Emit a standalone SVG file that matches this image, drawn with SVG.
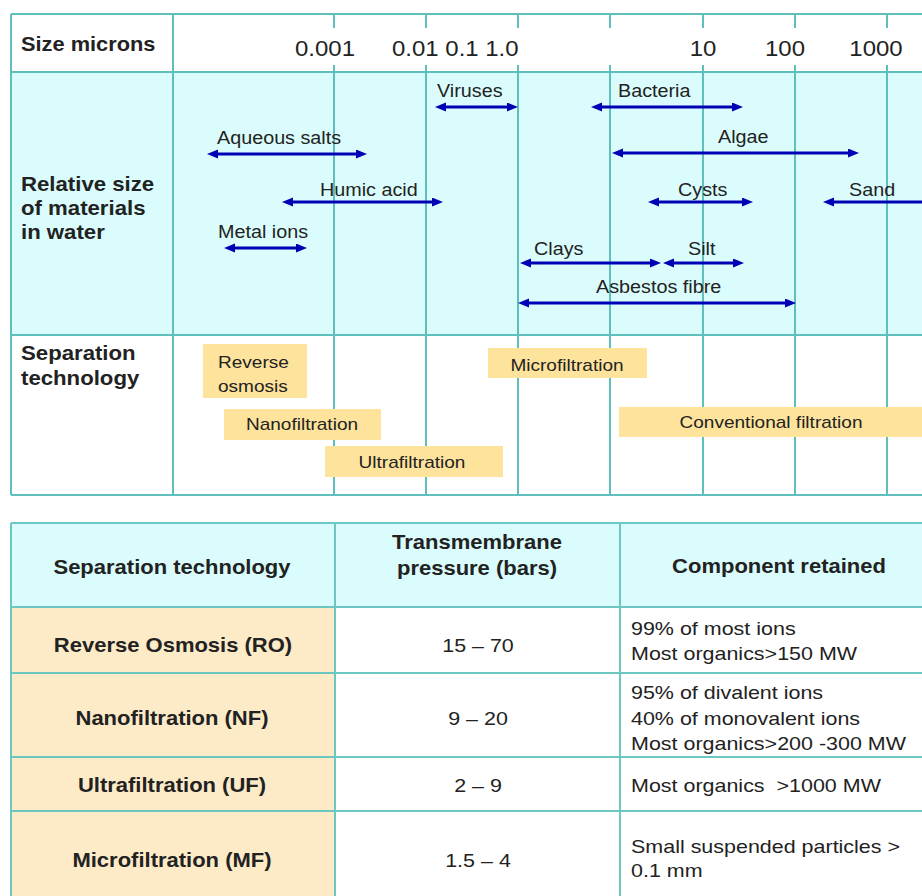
<svg xmlns="http://www.w3.org/2000/svg" width="922" height="896" viewBox="0 0 922 896">
<defs>
<style>
text{font-family:"Liberation Sans",Arial,sans-serif;fill:#222}
.b{font-weight:bold;font-size:20px}
.num{font-size:22px}
.lb{font-size:17.5px}
.tb{font-size:17px}
.td{font-size:19px}
.c{text-anchor:middle}
.grid{stroke:#5fbfbb;stroke-width:2;fill:none}
.tgrid{stroke:#6cc6c2;stroke-width:2;fill:none}
.arr{stroke:#0000b4;stroke-width:3;fill:none}
.box{fill:#fde39c}
</style>
<marker id="ah" markerUnits="userSpaceOnUse" markerWidth="12" markerHeight="10" refX="5" refY="4.5" orient="auto-start-reverse">
<path d="M0,0 L11,4.5 L0,9 z" fill="#0000b4"/>
</marker>
</defs>
<rect width="922" height="896" fill="#fff"/>

<g id="chart-bg">
<rect x="11" y="72" width="920" height="263" fill="#dafcfc"/>
</g>
<g id="chart-grid" class="grid">
<line x1="11" y1="14" x2="931" y2="14"/>
<line x1="11" y1="72" x2="931" y2="72"/>
<line x1="11" y1="335" x2="931" y2="335"/>
<line x1="11" y1="495" x2="931" y2="495"/>
<line x1="11" y1="14" x2="11" y2="495"/>
<line x1="173" y1="14" x2="173" y2="495"/>
<path d="M334,14V28M334,65V495M426,14V28M426,65V495M518,14V28M518,65V495M610,14V28M610,65V495M703,14V28M703,65V495M795,14V28M795,65V495M887,14V28M887,65V495"/>
</g>

<g id="axis">
<text class="b" transform="translate(21 51) scale(1.09 1)">Size microns</text>
<text class="num" transform="translate(295 56) scale(1.09 1)">0.001</text>
<text class="num" transform="translate(392 56) scale(1.09 1)">0.01 0.1 1.0</text>
<text class="num c" transform="translate(703 56) scale(1.09 1)">10</text>
<text class="num c" transform="translate(785 56) scale(1.09 1)">100</text>
<text class="num c" transform="translate(876 56) scale(1.09 1)">1000</text>
</g>

<g id="row-labels">
<text class="b" transform="translate(21 191) scale(1.11 1)">Relative size</text>
<text class="b" transform="translate(21 215) scale(1.11 1)">of materials</text>
<text class="b" transform="translate(21 239) scale(1.11 1)">in water</text>
<text class="b" transform="translate(21 360) scale(1.11 1)">Separation</text>
<text class="b" transform="translate(21 385) scale(1.11 1)">technology</text>
</g>

<g id="viruses"><text class="lb" transform="translate(437 97) scale(1.13 1)">Viruses</text></g>
<g id="bacteria"><text class="lb" transform="translate(618 97) scale(1.13 1)">Bacteria</text></g>
<g id="aqueous-salts"><text class="lb" transform="translate(217 144) scale(1.13 1)">Aqueous salts</text></g>
<g id="algae"><text class="lb" transform="translate(718 143) scale(1.13 1)">Algae</text></g>
<g id="humic-acid"><text class="lb" transform="translate(320 196) scale(1.13 1)">Humic acid</text></g>
<g id="cysts"><text class="lb" transform="translate(678 196) scale(1.13 1)">Cysts</text></g>
<g id="sand"><text class="lb" transform="translate(849 196) scale(1.13 1)">Sand</text></g>
<g id="metal-ions"><text class="lb" transform="translate(218 238) scale(1.13 1)">Metal ions</text></g>
<g id="clays"><text class="lb" transform="translate(534 255) scale(1.13 1)">Clays</text></g>
<g id="silt"><text class="lb" transform="translate(688 255) scale(1.13 1)">Silt</text></g>
<g id="asbestos"><text class="lb" transform="translate(596 293) scale(1.13 1)">Asbestos fibre</text></g>

<g id="connectors" class="arr">
<line x1="441" y1="107" x2="512" y2="107" marker-start="url(#ah)" marker-end="url(#ah)"/>
<line x1="597" y1="107" x2="737" y2="107" marker-start="url(#ah)" marker-end="url(#ah)"/>
<line x1="213" y1="154" x2="361" y2="154" marker-start="url(#ah)" marker-end="url(#ah)"/>
<line x1="618" y1="153" x2="853" y2="153" marker-start="url(#ah)" marker-end="url(#ah)"/>
<line x1="288" y1="202" x2="437" y2="202" marker-start="url(#ah)" marker-end="url(#ah)"/>
<line x1="654" y1="202" x2="747" y2="202" marker-start="url(#ah)" marker-end="url(#ah)"/>
<line x1="829" y1="202" x2="935" y2="202" marker-start="url(#ah)"/>
<line x1="230" y1="248" x2="301" y2="248" marker-start="url(#ah)" marker-end="url(#ah)"/>
<line x1="526" y1="263" x2="655" y2="263" marker-start="url(#ah)" marker-end="url(#ah)"/>
<line x1="669" y1="263" x2="738" y2="263" marker-start="url(#ah)" marker-end="url(#ah)"/>
<line x1="524" y1="303" x2="790" y2="303" marker-start="url(#ah)" marker-end="url(#ah)"/>
</g>

<g id="reverse-osmosis">
<rect class="box" x="203" y="344" width="104" height="54"/>
<text class="tb" transform="translate(218 368) scale(1.12 1)">Reverse</text>
<text class="tb" transform="translate(218 392) scale(1.12 1)">osmosis</text>
</g>
<g id="nanofiltration">
<rect class="box" x="224" y="409" width="157" height="31"/>
<text class="tb c" transform="translate(302 430) scale(1.12 1)">Nanofiltration</text>
</g>
<g id="ultrafiltration">
<rect class="box" x="325" y="446" width="178" height="31"/>
<text class="tb c" transform="translate(412 468) scale(1.12 1)">Ultrafiltration</text>
</g>
<g id="microfiltration">
<rect class="box" x="488" y="348" width="159" height="30"/>
<text class="tb c" transform="translate(567 371) scale(1.12 1)">Microfiltration</text>
</g>
<g id="conventional-filtration">
<rect class="box" x="619" y="407" width="312" height="30"/>
<text class="tb c" transform="translate(771 428) scale(1.12 1)">Conventional filtration</text>
</g>

<g id="table-bg">
<rect x="11" y="523" width="920" height="84" fill="#dafcfc"/>
<rect x="11" y="607" width="324" height="300" fill="#fdebc8"/>
</g>
<g id="table-grid" class="tgrid">
<line x1="11" y1="523" x2="931" y2="523"/>
<line x1="11" y1="607" x2="931" y2="607"/>
<line x1="11" y1="673" x2="931" y2="673"/>
<line x1="11" y1="757" x2="931" y2="757"/>
<line x1="11" y1="811" x2="931" y2="811"/>
<line x1="11" y1="523" x2="11" y2="900"/>
<line x1="335" y1="523" x2="335" y2="900"/>
<line x1="620" y1="523" x2="620" y2="900"/>
</g>

<g id="table-header">
<text class="b c" transform="translate(172 574) scale(1.1 1)">Separation technology</text>
<text class="b c" transform="translate(477 549) scale(1.1 1)">Transmembrane</text>
<text class="b c" transform="translate(477 575) scale(1.1 1)">pressure (bars)</text>
<text class="b c" transform="translate(779 573) scale(1.1 1)">Component retained</text>
</g>
<g id="row-ro">
<text class="b c" transform="translate(173 652) scale(1.1 1)">Reverse Osmosis (RO)</text>
<text class="td c" transform="translate(478 652) scale(1.13 1)">15 – 70</text>
<text class="td" transform="translate(631 635) scale(1.13 1)">99% of most ions</text>
<text class="td" transform="translate(631 660) scale(1.13 1)">Most organics&gt;150 MW</text>
</g>
<g id="row-nf">
<text class="b c" transform="translate(172 725) scale(1.1 1)">Nanofiltration (NF)</text>
<text class="td c" transform="translate(478 725) scale(1.13 1)">9 – 20</text>
<text class="td" transform="translate(631 699) scale(1.13 1)">95% of divalent ions</text>
<text class="td" transform="translate(631 725) scale(1.13 1)">40% of monovalent ions</text>
<text class="td" transform="translate(631 750) scale(1.13 1)">Most organics&gt;200 -300 MW</text>
</g>
<g id="row-uf">
<text class="b c" transform="translate(172 792) scale(1.1 1)">Ultrafiltration (UF)</text>
<text class="td c" transform="translate(478 792) scale(1.13 1)">2 – 9</text>
<text class="td" transform="translate(631 792) scale(1.13 1)" xml:space="preserve">Most organics  &gt;1000 MW</text>
</g>
<g id="row-mf">
<text class="b c" transform="translate(172 867) scale(1.1 1)">Microfiltration (MF)</text>
<text class="td c" transform="translate(478 867) scale(1.13 1)">1.5 – 4</text>
<text class="td" transform="translate(631 853) scale(1.13 1)">Small suspended particles &gt;</text>
<text class="td" transform="translate(631 877) scale(1.13 1)">0.1 mm</text>
</g>
</svg>
